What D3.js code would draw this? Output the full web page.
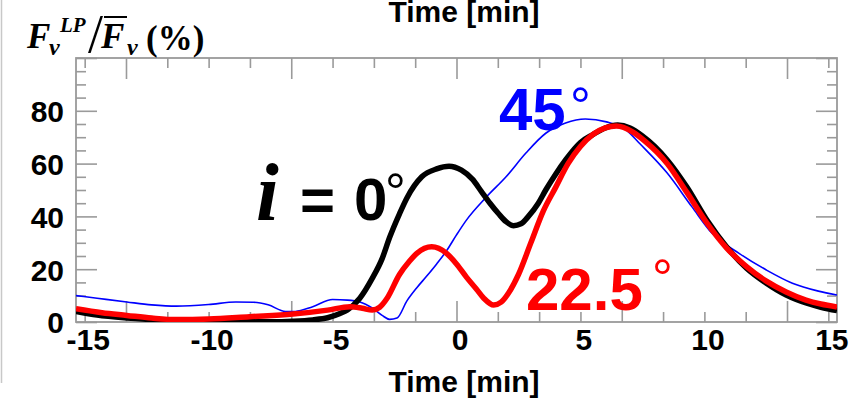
<!DOCTYPE html>
<html><head><meta charset="utf-8">
<script src="https://cdn.jsdelivr.net/npm/d3@7"></script>
<style>
html,body{margin:0;padding:0;background:#fff;}
svg{display:block;}
</style></head>
<body>
<svg id="chart" width="856" height="404"></svg>
<script>
// ---------- data ----------
const blackT = [-15.35,-14.5,-13.3,-12,-10.6,-9,-7.5,-6.6,-5.8,-5.2,-4.7,-4.4,-3.9,-3.4,-3.0,-2.7,-2.3,-2.0,-1.4,-0.8,-0.3,0.2,0.65,1.0,1.35,1.7,2.0,2.3,2.6,2.9,3.3,3.6,4.0,4.4,5.0,5.5,6.0,6.5,7.0,7.5,8.0,8.5,9.3,10.1,10.9,11.7,12.5,13.3,14.1,14.7,15.35];
const blackV = [4,2.6,1.5,0.8,0.4,0.2,0.1,0.3,0.8,1.6,3.2,4.6,9,16.5,24,32,41,47,55,58,59,57.5,54,49.5,45,41,38,36.5,37.2,40,45,50,56,61.4,68,71,73.5,74.6,73.5,70.5,66.5,61.4,51,38.6,28.4,20.4,14.7,10.2,7.2,5.6,4.3];
const redT = [-15.35,-14.3,-13.3,-12.3,-11.3,-10,-8.35,-6.6,-5.2,-4.3,-3.8,-3.4,-3.1,-2.8,-2.3,-1.9,-1.6,-1.0,-0.4,0.0,0.4,0.8,1.1,1.5,1.8,2.1,2.5,3.0,3.5,4.0,4.5,5.0,5.5,6.0,6.45,7.1,7.6,8.5,9.3,10.1,10.9,11.7,12.5,13.3,14.1,14.7,15.35];
const redV = [5,3.5,2.5,1.5,0.9,1.1,2,3,4.5,5.8,5.2,4.5,5.6,9,18,23,26,28.5,26,22,17,12.5,9,6.4,7.5,11,18,30,42,51,60,66.5,71,73.5,74.2,72,68.5,60,49,37.5,28,21,15.5,11.4,8.3,6.8,5.7];
const blueT = [-15.35,-14.5,-13.3,-12.3,-11.3,-10,-8.9,-8.2,-7.6,-6.9,-6.5,-5.8,-5.0,-4.4,-3.9,-3.4,-3.0,-2.7,-2.4,-2.0,-1.6,-1.2,-0.8,-0.4,0.0,0.4,1.2,2.0,2.8,3.6,4.4,5.2,6.05,6.85,7.4,8.5,9.5,10.3,11.4,12.5,13.55,14.6,15.35];
const blueV = [10,9,7.6,6.5,6,6.6,7.6,7.5,6.5,4,4,5.8,8.5,8.3,7.6,5.3,2.5,1,1.5,8,13,17.4,22,27,33,38.6,47.3,55,64,71.5,75.4,76.9,75.8,72.7,67.5,56.4,43.6,33.7,26,19.7,14.7,11.7,10.2];

const xLabels = [-15,-10,-5,0,5,10,15];
const yLabels = [0,20,40,60,80];
const xTickSteps = d3.range(-9,10);        // ticks every 5/3 min
const yTickVals = d3.range(0,101,5);

// ---------- layout ----------
const L=76, R=837, T=58, B=322;
const svg = d3.select("#chart");
const x = d3.scaleLinear().domain([-15.35,15.35]).range([L,R]);
const y = d3.scaleLinear().domain([0,100]).range([B,T]);
const grey = "#9a9a9a";
const sans = "'Liberation Sans', Arial, Helvetica, sans-serif";
const serif = "'Liberation Serif', 'Times New Roman', Times, serif";
const plain = d => String(d);

// thin page line at left edge
svg.append("line").attr("x1",1.5).attr("x2",1.5).attr("y1",0).attr("y2",383)
  .attr("stroke","#c8c8c8").attr("stroke-width",1.5);

// ---------- ticks ----------
const xTickVals = xTickSteps.map(i=>i*5/3);
const isLongX = v => Math.abs(Math.round(v/(20/3))*(20/3)-v)<1e-6;
const isLongY = v => v%20===0;

function tickAxis(axisFn, scale, vals, longFn, transform){
  const g = svg.append("g").attr("transform",transform);
  g.call(axisFn(scale).tickValues(vals).tickFormat("").tickSizeOuter(0).tickSizeInner(-10));
  g.select(".domain").remove();
  g.selectAll(".tick line").attr("stroke",grey).attr("stroke-width",1.6);
  g.selectAll(".tick").each(function(d){
    if(longFn(d)){
      const ln = d3.select(this).select("line");
      ["y2","x2"].forEach(a=>{ const v=+ln.attr(a); if(v) ln.attr(a, v*2.1); });
    }
  });
  return g;
}
tickAxis(d3.axisBottom, x, xTickVals, isLongX, `translate(0,${B})`);
tickAxis(d3.axisTop, x, xTickVals, isLongX, `translate(0,${T})`);
tickAxis(d3.axisLeft, y, yTickVals, isLongY, `translate(${L},0)`);
tickAxis(d3.axisRight, y, yTickVals, isLongY, `translate(${R},0)`);

// frame
svg.append("rect").attr("x",L).attr("y",T).attr("width",R-L).attr("height",B-T)
  .attr("fill","none").attr("stroke",grey).attr("stroke-width",1.8);

// ---------- tick labels ----------
const xa = svg.append("g").attr("transform",`translate(3,${B+4})`)
  .call(d3.axisBottom(x).tickValues(xLabels).tickSize(0).tickFormat(plain));
xa.select(".domain").remove();
xa.selectAll("text").attr("font-family",sans).attr("font-weight","bold")
  .attr("font-size",30).attr("fill","#000").attr("dy","0.71em");

const ya = svg.append("g").attr("transform",`translate(${L-12},0)`)
  .call(d3.axisLeft(y).tickValues(yLabels).tickSize(0).tickFormat(plain));
ya.select(".domain").remove();
ya.selectAll("text").attr("font-family",sans).attr("font-weight","bold")
  .attr("font-size",30).attr("fill","#000").attr("dy","0.36em").attr("x",0);

// axis titles (top one partly cut by the image edge, as in the original)
[22, 392].forEach(by=>{
  svg.append("text").attr("x",464).attr("y",by).attr("text-anchor","middle")
    .attr("font-family",sans).attr("font-weight","bold").attr("font-size",30)
    .attr("fill","#000").text("Time [min]");
});

// y label: F_ν^LP / F̄_ν (%)
const lab = svg.append("g").attr("font-family",serif).attr("font-weight","bold").attr("fill","#000");
lab.append("text").attr("x",27).attr("y",48).attr("font-size",35).attr("font-style","italic").text("F");
lab.append("text").attr("x",49).attr("y",55).attr("font-size",24).attr("font-style","italic").text("ν");
lab.append("text").attr("x",60).attr("y",32).attr("font-size",21).attr("font-style","italic").text("LP");
lab.append("text").attr("x",88).attr("y",52).attr("font-size",54).attr("font-weight","normal").text("/");
lab.append("text").attr("x",101).attr("y",48).attr("font-size",35).attr("font-style","italic").text("F");
lab.append("line").attr("x1",104).attr("x2",127).attr("y1",17).attr("y2",17).attr("stroke","#000").attr("stroke-width",2);
lab.append("text").attr("x",127).attr("y",55).attr("font-size",24).attr("font-style","italic").text("ν");
lab.append("text").attr("x",146).attr("y",50).attr("font-size",35).text("(%)");

// ---------- lines ----------
const line = d3.line().x(d=>x(d[0])).y(d=>y(d[1])).curve(d3.curveMonotoneX);
svg.append("clipPath").attr("id","pc").append("rect")
  .attr("x",L).attr("y",T-10).attr("width",R-L).attr("height",B-T+10);
const series = [
  {t:blueT, v:blueV, c:"#0000ff", w:1.6},
  {t:blackT, v:blackV, c:"#000000", w:5.5},
  {t:redT, v:redV, c:"#ff0000", w:5.5}
];
series.forEach(s=>{
  svg.append("path").datum(d3.zip(s.t,s.v)).attr("d",line)
    .attr("fill","none").attr("stroke",s.c).attr("stroke-width",s.w)
    .attr("stroke-linejoin","round").attr("stroke-linecap","butt")
    .attr("clip-path","url(#pc)");
});

// ---------- annotations ----------
const ann = svg.append("g");
ann.append("text").attr("x",256).attr("y",220).attr("font-family",serif).attr("font-weight","bold")
  .attr("font-style","italic").attr("font-size",82).attr("fill","#000").text("i");
ann.append("text").attr("x",300).attr("y",220).attr("font-family",sans).attr("font-weight","bold")
  .attr("font-size",60).attr("fill","#000").text("=");
ann.append("text").attr("x",354).attr("y",220).attr("font-family",sans).attr("font-weight","bold")
  .attr("font-size",60).attr("fill","#000").text("0");
ann.append("text").attr("x",385).attr("y",210).attr("font-family",sans)
  .attr("font-size",52).attr("fill","#000").text("°");

ann.append("text").attr("x",499).attr("y",130).attr("font-family",sans).attr("font-weight","bold")
  .attr("font-size",60).attr("fill","#0000ff").text("45");
ann.append("text").attr("x",570).attr("y",124).attr("font-family",sans)
  .attr("font-size",52).attr("fill","#0000ff").text("°");

ann.append("text").attr("x",526).attr("y",310).attr("font-family",sans).attr("font-weight","bold")
  .attr("font-size",60).attr("fill","#ff0000").text("22.5");
ann.append("text").attr("x",652).attr("y",296).attr("font-family",sans)
  .attr("font-size",52).attr("fill","#ff0000").text("°");
</script>
</body></html>
